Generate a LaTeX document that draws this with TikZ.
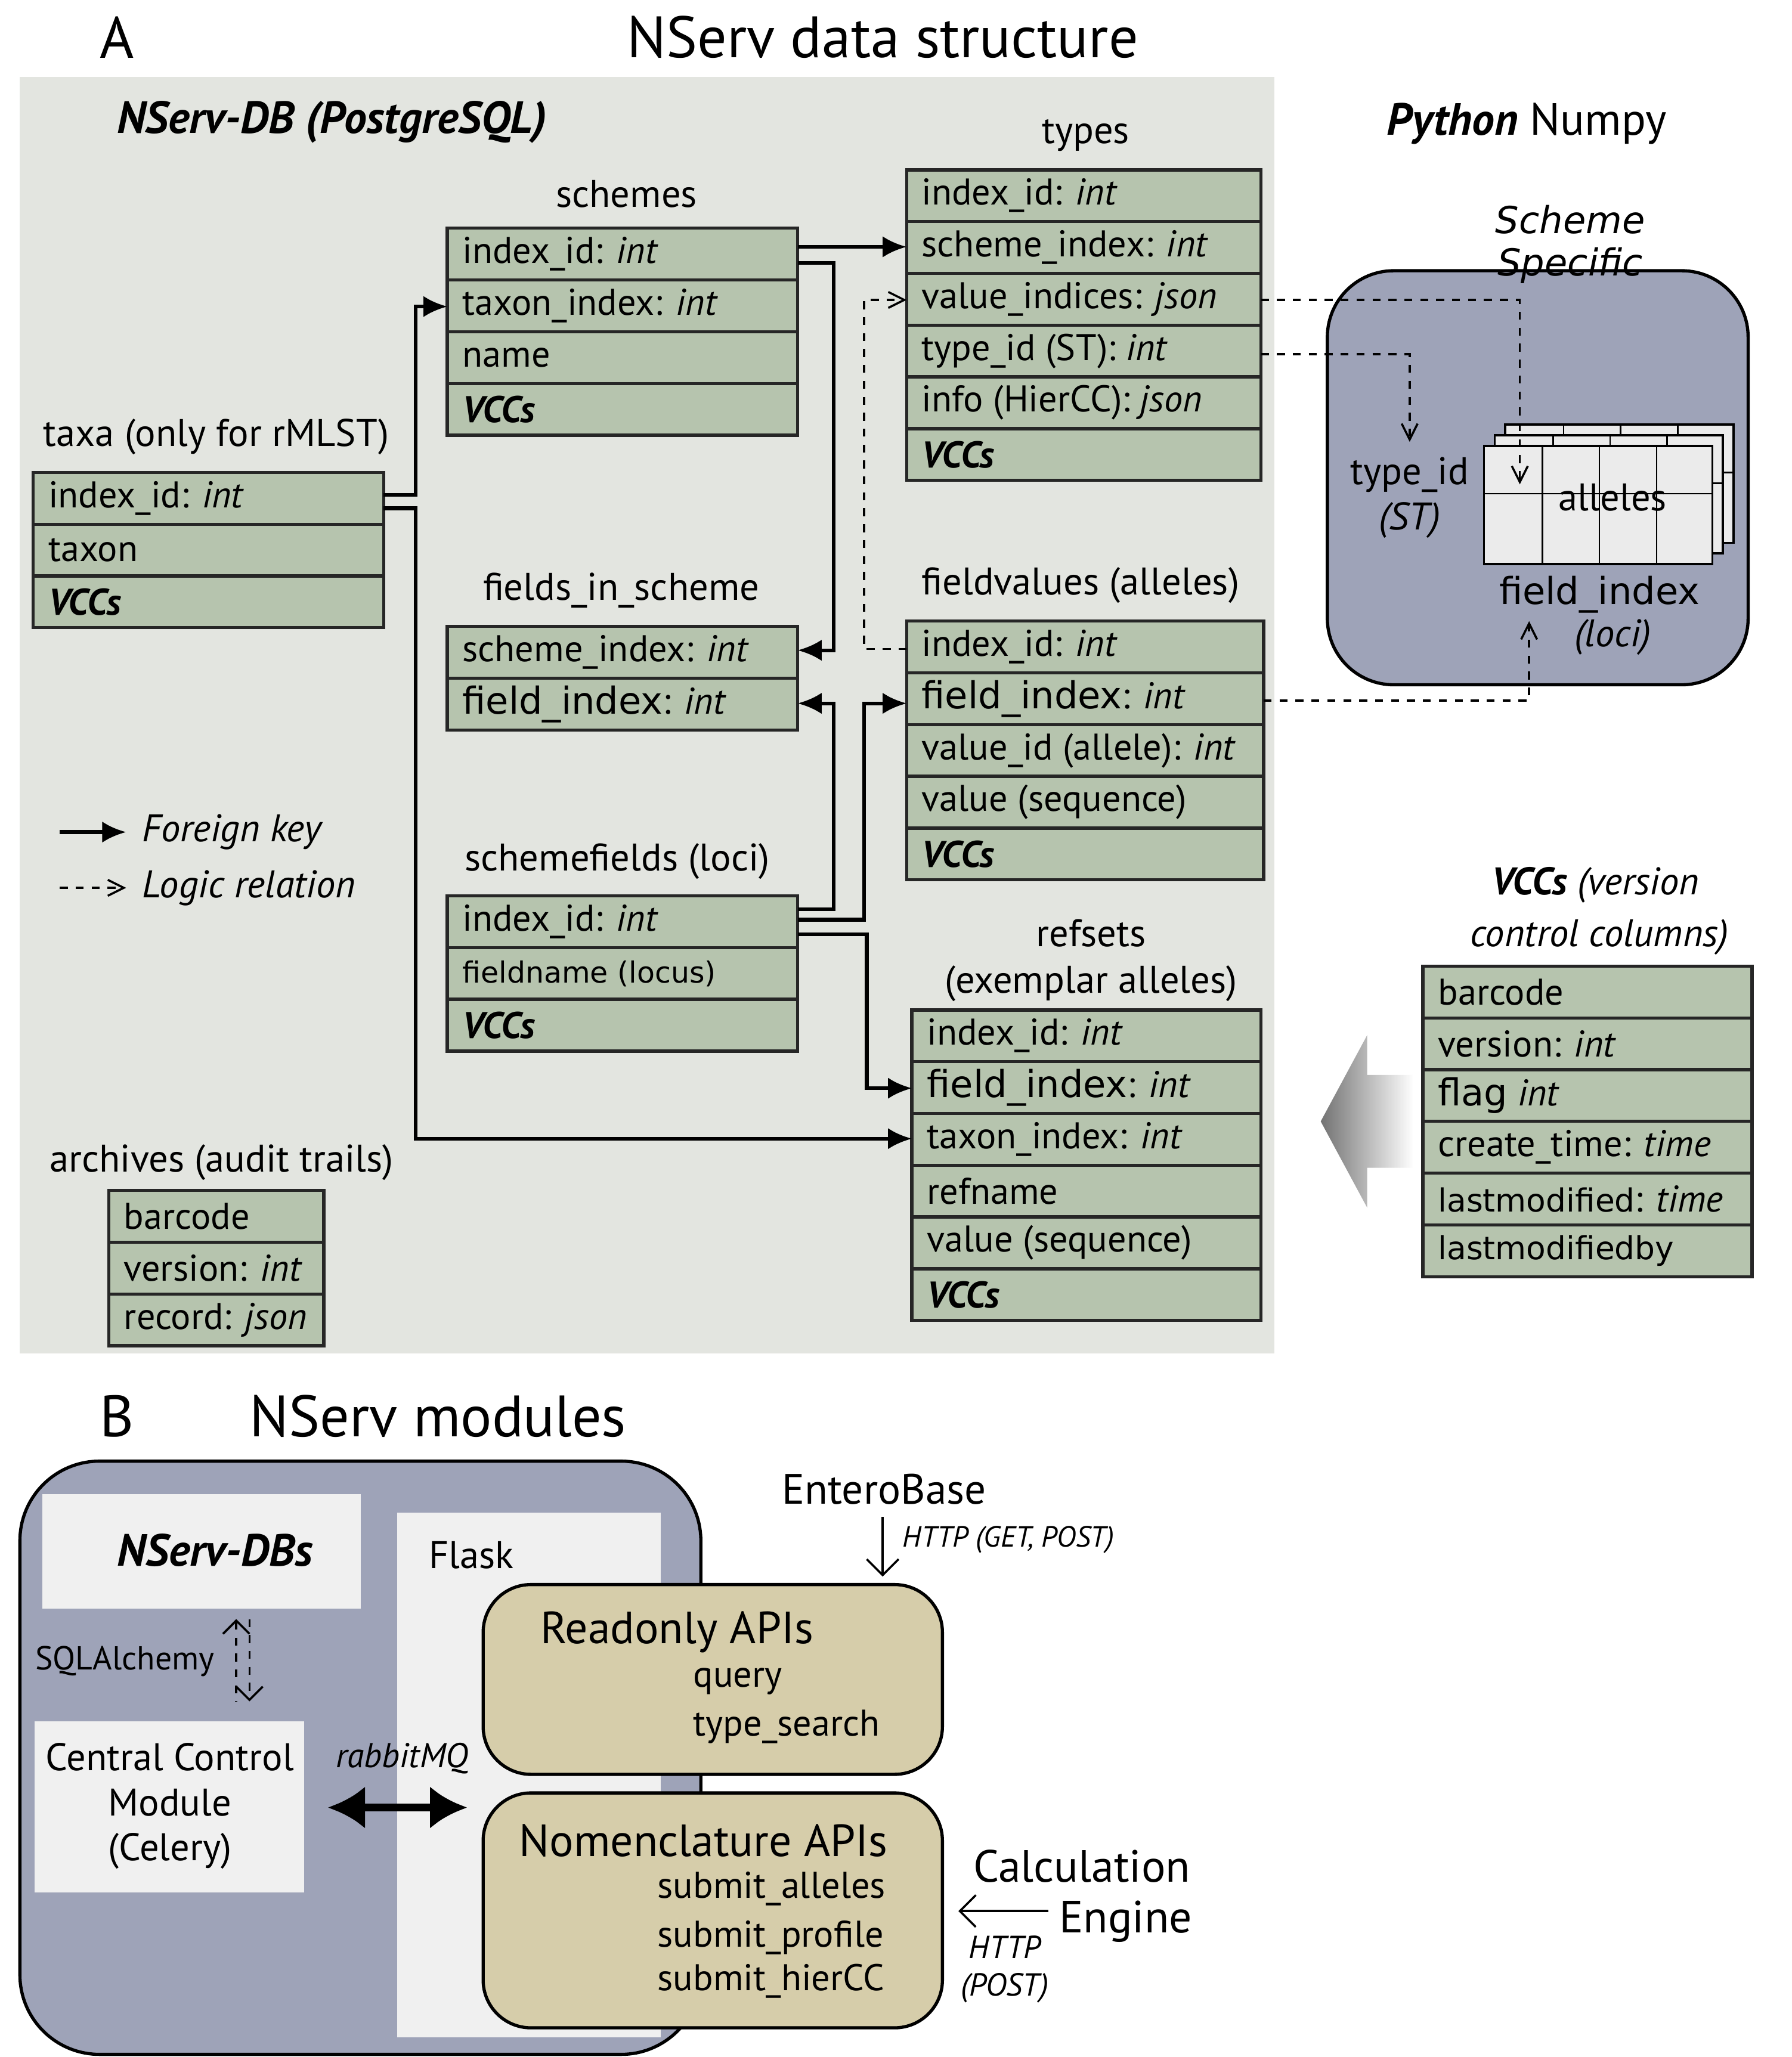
\documentclass[tikz,border=0pt]{standalone}
\usepackage{fontspec}
\setmainfont{PT Sans}
\newfontfamily\dvs{DejaVu Sans}
\usetikzlibrary{arrows.meta}
\definecolor{bgA}{HTML}{E3E5E0}
\definecolor{tblc}{HTML}{B6C4AE}
\definecolor{blu}{HTML}{9EA3B8}
\definecolor{tan}{HTML}{D6CDAA}
\tikzset{tbl/.style={draw=black!85,line width=1.2pt,fill=tblc},
 fk/.style={line width=1.4pt,-{Latex[length=9pt,width=8pt]}},
 lr/.style={line width=0.8pt,dashed,-{Straight Barb[length=6pt,width=6pt]}},
 ttl/.style={font=\fontsize{14.5}{17}\selectfont},
 txt/.style={font=\fontsize{14}{16}\selectfont,anchor=west,inner sep=0pt}}
\newcommand\mytable[5]{\foreach \t [count=\i] in {#5}{%
 \pgfmathsetmacro\ya{#4+(\i-1)*39}\pgfmathsetmacro\yb{#4+\i*39}%
 \draw[tbl] (#2,\ya) rectangle (#3,\yb);
 \node[txt] (#1-\i) at (#2+11,{(\ya+\yb)/2}) {\t};}}
\newcommand\V{\textbf{\textit{VCCs}}}
\begin{document}
\begin{tikzpicture}[x=0.5pt,y=-0.5pt]
\useasboundingbox[fill=white] (0,0) rectangle (1350,1550);
% Panel A
\fill[bgA] (15,58) rectangle (960,1020);
\node[font=\fontsize{22}{24}\selectfont] (lA) at (88,28) {A};
\node[font=\fontsize{22}{24}\selectfont] (tA) at (665,28) {NServ data structure};
\node[font=\fontsize{17}{19}\selectfont\bfseries\itshape] (db) at (250,92) {NServ-DB (PostgreSQL)};
\node[ttl] at (472,146) {schemes};
\mytable{sc}{337}{601}{172}{index\_id: \textit{int},taxon\_index: \textit{int},name,\V}
\node[ttl] at (818,102) {types};
\mytable{ty}{683}{950}{128}{index\_id: \textit{int},scheme\_index: \textit{int},value\_indices: \textit{json},type\_id (ST): \textit{int},info (HierCC): \textit{json},\V}
\node[ttl] at (163,329) {taxa (only for rMLST)};
\mytable{tx}{25}{289}{356}{index\_id: \textit{int},taxon,\V}
\node[ttl] at (468,445) {fields\_in\_scheme};
\mytable{fs}{337}{601}{472}{scheme\_index: \textit{int},{\dvs field\_index}: \textit{int}}
\node[ttl] at (814,441) {fieldvalues (alleles)};
\mytable{fv}{683}{952}{468}{index\_id: \textit{int},{\dvs field\_index}: \textit{int},value\_id (allele): \textit{int},value (sequence),\V}
\node[ttl] at (465,649) {schemefields (loci)};
\mytable{sf}{337}{601}{675}{index\_id: \textit{int},{\dvs\fontsize{11}{13}\selectfont fieldname (locus)},\V}
\node[ttl] at (822,703) {refsets};
\node[ttl] at (822,741) {(exemplar alleles)};
\mytable{rs}{687}{950}{761}{index\_id: \textit{int},{\dvs field\_index}: \textit{int},taxon\_index: \textit{int},refname,value (sequence),\V}
\node[ttl] at (167,876) {archives (audit trails)};
\mytable{ar}{82}{244}{897}{barcode,version: \textit{int},record: \textit{json}}
\node[ttl] at (1202,667) {\textbf{\textit{VCCs}} \textit{(version}};
\node[ttl] at (1205,706) {\textit{control columns)}};
\mytable{vc}{1072}{1320}{728}{barcode,version: \textit{int},{\dvs flag} \textit{int},create\_time: \textit{time},{\dvs\fontsize{12}{14}\selectfont lastmodified}: \textit{time},{\dvs\fontsize{12}{14}\selectfont lastmodifiedby}}
\shade[left color=black!55,right color=white] (995,845) -- (1030,780) -- (1030,810) -- (1065,810) -- (1065,880) -- (1030,880) -- (1030,910) -- cycle;
% Numpy
\node[font=\fontsize{17}{19}\selectfont] (py) at (1150,93) {\textbf{\textit{Python}} Numpy};
\draw[fill=blu,line width=1.2pt,rounded corners=25pt] (1000,204) rectangle (1317,516);
\node[font=\fontsize{14}{16}\selectfont\dvs\itshape,align=center] (ss) at (1183,184) {Scheme\\Specific};
\foreach \d in {16,8,0}{
 \begin{scope}[shift={(\d,-\d)}]
 \draw[fill=black!8,line width=0.8pt] (1118,336) rectangle (1290,425);
 \draw[line width=0.6pt] (1118,372) -- (1290,372);
 \foreach \xx in {1162,1205,1248} \draw[line width=0.6pt] (\xx,336) -- (\xx,425);
 \end{scope}}
\node[ttl] (al) at (1215,375) {alleles};
\node[ttl,align=center] (tid) at (1062,375) {type\_id\\\textit{(ST)}};
\node[font=\fontsize{14}{16}\selectfont\dvs] (fi) at (1205,448) {field\_index};
\node[ttl] (lc) at (1215,480) {\textit{(loci)}};
% solid connectors
\draw[fk] (601,186) -- (683,186);
\draw[fk] (601,198) -- (628,198) -- (628,490) -- (601,490);
\draw[fk] (289,373) -- (313,373) -- (313,231) -- (337,231);
\draw[fk] (289,383) -- (313,383) -- (313,858) -- (687,858);
\draw[fk] (601,685) -- (628,685) -- (628,530) -- (601,530);
\draw[fk] (601,693) -- (651,693) -- (651,530) -- (683,530);
\draw[fk] (601,704) -- (653,704) -- (653,820) -- (687,820);
% dashed
\draw[lr] (683,489) -- (651,489) -- (651,226) -- (683,226);
\draw[lr] (950,226) -- (1145,226) -- (1145,365);
\draw[lr] (950,267) -- (1062,267) -- (1062,333);
\draw[lr] (952,528) -- (1152,528) -- (1152,468);
% legend
\draw[fk] (45,627) -- (95,627);
\node[ttl,anchor=west] at (100,627) {\textit{Foreign key}};
\draw[lr] (45,669) -- (95,669);
\node[ttl,anchor=west] at (100,669) {\textit{Logic relation}};
% Panel B
\node[font=\fontsize{22}{24}\selectfont] (lB) at (88,1067) {B};
\node[font=\fontsize{22}{24}\selectfont] (tB) at (330,1067) {NServ modules};
\draw[fill=blu,line width=1.2pt,rounded corners=30pt] (15,1101) rectangle (528,1548);
\fill[black!6] (32,1126) rectangle (272,1212);
\node[font=\fontsize{17}{19}\selectfont\bfseries\itshape] (dbs) at (162,1168) {NServ-DBs};
\fill[black!6] (299,1140) rectangle (498,1535);
\node[ttl] (fl) at (355,1172) {Flask};
\node[font=\fontsize{12.5}{14}\selectfont] (sqa) at (94,1252) {SQLAlchemy};
\draw[line width=0.8pt,dashed,{Straight Barb[length=5pt]}-] (178,1220) -- (178,1282);
\draw[line width=0.8pt,dashed,-{Straight Barb[length=5pt]}] (188,1220) -- (188,1282);
\fill[black!6] (26,1297) rectangle (229,1426);
\node[ttl,align=center] (ccm) at (128,1361) {Central Control\\Module\\(Celery)};
\node[font=\fontsize{13}{15}\selectfont] (rmq) at (303,1325) {\textit{rabbitMQ}};
\draw[line width=3pt,{Latex[length=14pt,width=16pt]}-{Latex[length=14pt,width=16pt]}] (247,1362) -- (352,1362);
\draw[fill=tan,line width=1.2pt,rounded corners=18pt] (364,1194) rectangle (710,1337);
\node[font=\fontsize{17}{19}\selectfont] (ro) at (510,1230) {Readonly APIs};
\node[txt] at (522,1267) {query};
\node[txt] at (522,1301) {type\_search};
\draw[fill=tan,line width=1.2pt,rounded corners=18pt] (364,1351) rectangle (710,1528);
\node[font=\fontsize{17}{19}\selectfont] (no) at (530,1387) {Nomenclature APIs};
\node[txt] at (495,1423) {submit\_alleles};
\node[txt] at (495,1460) {submit\_profile};
\node[txt] at (495,1493) {submit\_hierCC};
\node[font=\fontsize{16}{18}\selectfont] (eb) at (666,1122) {EnteroBase};
\draw[line width=0.8pt,-{Straight Barb[length=6pt]}] (665,1143) -- (665,1188);
\node[font=\fontsize{11}{13}\selectfont\itshape,anchor=west] at (673,1160) {HTTP (GET, POST)};
\node[font=\fontsize{17}{19}\selectfont] (ce1) at (815,1406) {Calculation};
\node[font=\fontsize{17}{19}\selectfont] (ce2) at (848,1448) {Engine};
\draw[line width=0.8pt,-{Straight Barb[length=6pt]}] (790,1440) -- (722,1440);
\node[font=\fontsize{12}{14}\selectfont\itshape] at (757,1467) {HTTP};
\node[font=\fontsize{12}{14}\selectfont\itshape] at (757,1498) {(POST)};
\end{tikzpicture}
\end{document}
